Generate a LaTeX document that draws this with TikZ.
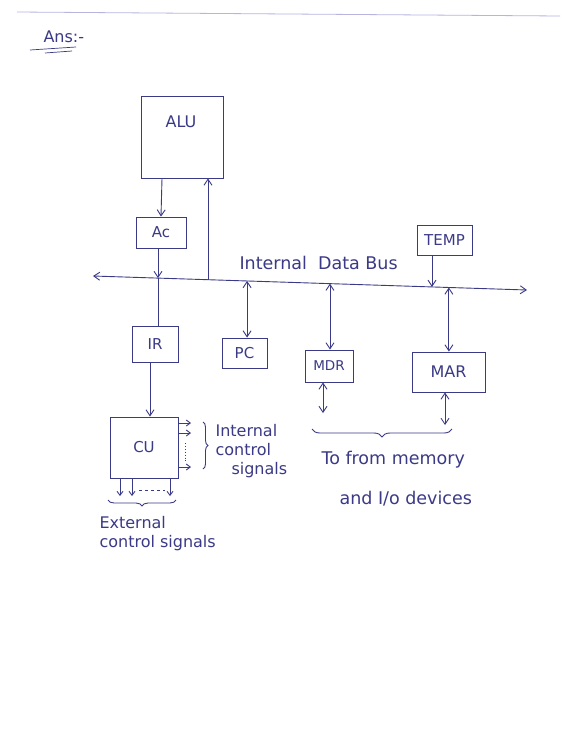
\documentclass[tikz,border=0pt]{standalone}
\usepackage{fontspec}
\setmainfont{DejaVu Sans}
\usetikzlibrary{arrows.meta,decorations.pathreplacing,calc}
\definecolor{ink}{HTML}{3B3A86}
\definecolor{faint}{HTML}{B8B4E0}
\tikzset{
  x=1pt,y=-1pt,
  every node/.style={text=ink},
  blk/.style={draw=ink,line width=0.9pt,inner sep=0pt},
  lbl/.style={font=\fontsize{15}{17}\selectfont},
  hand/.style={font=\fontsize{16}{19}\selectfont,align=left},
  bighand/.style={font=\fontsize{17.5}{20}\selectfont,align=left},
  conn/.style={draw=ink,line width=0.9pt},
  arr/.style={conn,-{Straight Barb[length=6pt,width=8pt]}},
  darr/.style={conn,{Straight Barb[length=6pt,width=8pt]}-{Straight Barb[length=6pt,width=8pt]}},
  sarr/.style={conn,-{Straight Barb[length=4pt,width=6pt]}},
  brc/.style={conn,decorate,decoration={brace,amplitude=6pt}}
}
\begin{document}
\begin{tikzpicture}
\useasboundingbox (0,0) rectangle (560,747);
\fill[white] (0,0) rectangle (560,747);
% ruled header line
\coordinate (hl) at (17,12);
\coordinate (hr) at (560,16);
\draw[faint,line width=0.8pt] (hl) -- (hr);
% Ans
\node[hand,anchor=west] (ans) at (40,37) {Ans:-};
\coordinate (u1a) at (30,50); \coordinate (u1b) at (76,47);
\coordinate (u2a) at (45,53); \coordinate (u2b) at (72,51);
\draw[conn,line width=0.7pt] (u1a) -- (u1b);
\draw[conn,line width=0.7pt] (u2a) -- (u2b);

% blocks
\node[blk,minimum width=82pt,minimum height=82pt] (alu) at (182,137) {};
\node[lbl,font=\fontsize{16}{18}\selectfont] (alul) at (181,122) {ALU};
\node[blk,minimum width=50pt,minimum height=31pt,lbl] (ac) at (161,232.5) {Ac};
\node[blk,minimum width=55pt,minimum height=30pt,lbl] (temp) at (444.5,240) {TEMP};
\node[blk,minimum width=46pt,minimum height=36pt,lbl] (ir) at (155,344) {IR};
\node[blk,minimum width=45pt,minimum height=30pt,lbl] (pc) at (244.5,353) {PC};
\node[blk,minimum width=48pt,minimum height=32pt,lbl,font=\fontsize{13.5}{15}\selectfont] (mdr) at (329,366) {MDR};
\node[blk,minimum width=73pt,minimum height=40pt,lbl,font=\fontsize{16}{18}\selectfont] (mar) at (448.5,372) {MAR};
\node[blk,minimum width=68pt,minimum height=61pt,lbl] (cu) at (144,447.5) {CU};

% internal data bus
\coordinate (busL) at (93,276);
\coordinate (busR) at (527,290);
\draw[darr] (busL) -- (busR);
\node[bighand,anchor=south west] (busl) at (236,273) {Internal\ \ Data Bus};
\coordinate (b1) at ($(busL)!0.1498!(busR)$);
\coordinate (b2) at ($(busL)!0.265!(busR)$);
\coordinate (b3) at ($(busL)!0.355!(busR)$);
\coordinate (b4) at ($(busL)!0.546!(busR)$);
\coordinate (b5) at ($(busL)!0.781!(busR)$);
\coordinate (b6) at ($(busL)!0.820!(busR)$);

% connectors
\draw[arr] (alu.south -| ac.north) ++(1,0) -- (ac.north);
\draw[arr] (b1 |- ac.south) -- (b1);
\draw[conn] (b1) -- (b1 |- ir.north);
\draw[arr] (b2) -- (b2 |- alu.south);
\draw[darr] (b3) -- (b3 |- pc.north);
\draw[darr] (b4) -- (b4 |- mdr.north);
\draw[darr] (b6) -- (b6 |- mar.north);
\draw[arr] (b5 |- temp.south) -- (b5);
\draw[arr] (ir.south -| b1) ++(-8,0) coordinate (irs) -- (irs |- cu.north);

% MDR / MAR to memory
\coordinate (mdrd) at (323,413);
\coordinate (mard) at (445,425);
\draw[darr] (mdr.south -| mdrd) -- (mdrd);
\draw[darr] (mar.south -| mard) -- (mard);
\coordinate (mbr) at (452,429);
\coordinate (mbl) at (312,429);
\draw[brc,decoration={amplitude=8pt}] (mbr) -- (mbl);
\node[bighand,anchor=west] (mem1) at (318,460) {To from memory};
\node[bighand,anchor=west] (mem2) at (336,499) {and I/o devices};

% CU internal control signals
\coordinate (ci1) at (191,423);
\coordinate (ci2) at (191,433);
\coordinate (ci3) at (191,467);
\draw[sarr] (cu.east |- ci1) -- (ci1);
\draw[sarr] (cu.east |- ci2) -- (ci2);
\draw[sarr] (cu.east |- ci3) -- (ci3);
\coordinate (cd1) at (185,443);
\coordinate (cd2) at (185,461);
\draw[conn,dotted,line width=1pt] (cd1) -- (cd2);
\coordinate (cbt) at (203,422);
\coordinate (cbb) at (203,469);
\draw[brc,decoration={amplitude=5pt}] (cbt) -- (cbb);
\node[hand,anchor=north west] (ics) at (212,421) {Internal\\control\\\hspace*{16pt}signals};

% CU external control signals
\coordinate (ce1) at (120,496);
\coordinate (ce2) at (132,496);
\coordinate (ce3) at (170,496);
\draw[sarr] (cu.south -| ce1) -- (ce1);
\draw[sarr] (cu.south -| ce2) -- (ce2);
\draw[sarr] (cu.south -| ce3) -- (ce3);
\coordinate (cdl) at (139,490);
\coordinate (cdr) at (165,490);
\draw[conn,dashed,dash pattern=on 3pt off 3pt] (cdl) -- (cdr);
\coordinate (ebr) at (176,500);
\coordinate (ebl) at (108,500);
\draw[brc,decoration={amplitude=6pt}] (ebr) -- (ebl);
\node[hand,anchor=north west] (ecs) at (96,513) {External\\control signals};
\end{tikzpicture}
\end{document}
